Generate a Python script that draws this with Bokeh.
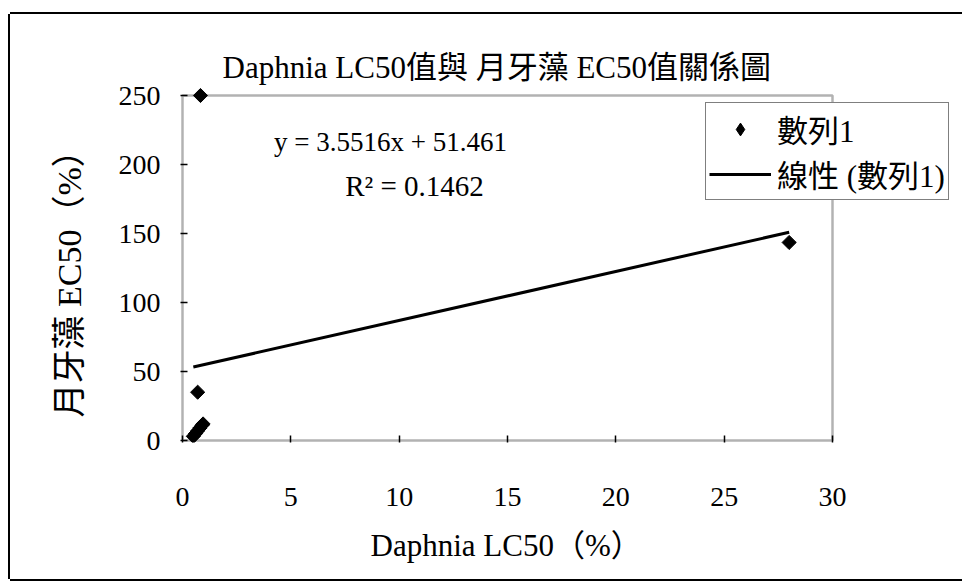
import math
from bokeh.plotting import figure
from bokeh.models import (Range1d, FixedTicker, Label, Legend, LegendItem,
                          BoxAnnotation, ColumnDataSource, Title)
from bokeh.embed import file_html
from bokeh.resources import INLINE

# ---- data ----
lc50 = [0.83, 0.70, 0.50, 0.60, 0.70, 0.80, 0.90, 0.95, 28.0]
ec50 = [250.0, 35.0, 3.0, 5.0, 7.0, 9.0, 11.0, 12.0, 143.5]
slope = 3.5516
intercept = 51.461
r2 = 0.1462
x_ticks = [0, 5, 10, 15, 20, 25, 30]
y_ticks = [0, 50, 100, 150, 200, 250]

title_text = "Daphnia LC50值與 月牙藻 EC50值關係圖"
x_label = "Daphnia LC50（%）"
y_label = "月牙藻 EC50（%）"
series_name = "數列1"
trend_name = "線性 (數列1)"

FONT = "'Liberation Serif', 'Noto Sans CJK TC'"

# page placement of the figure element (outer chart border drawn by CSS)
OX, OY = 10, 14
W, H = 952, 560
# plot area (axes box) in page pixels
AL, AR, AT, AB = 182, 832, 95, 440
PAD_LB, PAD_T = 2, 9          # frame extends a little past the axes box
PAGE_R = 962
sx = (AR - AL) / (x_ticks[-1] - x_ticks[0])
sy = (AB - AT) / (y_ticks[-1] - y_ticks[0])
FL, FT, FB, FR = AL - PAD_LB, AT - PAD_T, AB + PAD_LB, PAGE_R

p = figure(width=W, height=H, output_backend="svg", toolbar_location=None,
           x_range=Range1d(x_ticks[0] - PAD_LB / sx, x_ticks[-1] + (FR - AR) / sx),
           y_range=Range1d(y_ticks[0] - PAD_LB / sy, y_ticks[-1] + PAD_T / sy),
           min_border_left=FL - OX, min_border_right=0,
           min_border_top=FT - OY, min_border_bottom=OY + H - FB,
           styles={"margin-left": "%dpx" % OX, "margin-top": "%dpx" % OY,
                   "box-shadow": "-2px 0 0 0 #000, 0 -2px 0 0 #000, 0 2px 0 0 #000"})
p.frame_width = FR - FL
p.frame_height = FB - FT
p.background_fill_color = "white"
p.border_fill_color = "white"
p.grid.visible = False
p.outline_line_color = None

for ax in (p.xaxis, p.yaxis):
    ax.axis_line_color = None
    ax.major_tick_in = 5 + PAD_LB
    ax.major_tick_out = 0
    ax.minor_tick_line_color = None
    ax.major_tick_line_color = "black"
    ax.major_tick_line_width = 1.5
    ax.major_label_text_font = FONT
    ax.major_label_text_font_size = "28px"
    ax.major_label_text_color = "black"

p.xaxis.ticker = FixedTicker(ticks=x_ticks)
p.yaxis.ticker = FixedTicker(ticks=y_ticks)
p.xaxis.major_label_standoff = 45
p.yaxis.major_label_standoff = 20

# plot-area box from 0..30 / 0..250
p.add_layout(BoxAnnotation(left=x_ticks[0], right=x_ticks[-1],
                           bottom=y_ticks[0], top=y_ticks[-1],
                           fill_color=None, line_color="black", line_width=2.5,
                           level="underlay"))

# title
p.title.text = title_text
p.title.text_font = FONT
p.title.text_font_size = "31px"
p.title.text_font_style = "normal"
p.title.text_color = "black"
p.title.align = "left"
p.title.offset = 222 - FL
p.title.standoff = 4

# axis titles
p.add_layout(Title(text=x_label, align="left", offset=370 - FL,
                   text_font=FONT, text_font_size="31px",
                   text_font_style="normal", text_color="black",
                   standoff=34), "below")
p.add_layout(Title(text=y_label, align="left", offset=FB - 417,
                   text_font=FONT, text_font_size="34px",
                   text_font_style="normal", text_color="black",
                   standoff=56), "left")

# trend line from the fitted equation over the data's x extent
tx = [min(lc50), max(lc50)]
ty = [slope * v + intercept for v in tx]
trend = p.line(tx, ty, line_color="black", line_width=3)

src = ColumnDataSource(dict(x=lc50, y=ec50))
pts = p.scatter("x", "y", source=src, marker="square", size=10,
                angle=math.pi / 4, fill_color="black", line_color="black")
# legend swatch for the series (diamond marker, no drawn point of its own)
swatch = p.scatter(x=[float("nan")], y=[float("nan")], marker="diamond",
                   size=10, fill_color="black", line_color="black")

# equation and R^2
p.add_layout(Label(x=390 - FL, y=FB - 141, x_units="screen", y_units="screen",
                   text="y = %.4fx + %.3f" % (slope, intercept),
                   text_font=FONT, text_font_size="27px",
                   text_align="center", text_baseline="middle",
                   text_color="black"))
p.add_layout(Label(x=414 - FL, y=FB - 185, x_units="screen", y_units="screen",
                   text="R² = %.4f" % r2,
                   text_font=FONT, text_font_size="29px",
                   text_align="center", text_baseline="middle",
                   text_color="black"))

legend = Legend(items=[LegendItem(label=series_name, renderers=[swatch]),
                       LegendItem(label=trend_name, renderers=[trend])],
                location=(705 - FL, FB - 200),
                label_text_font=FONT, label_text_font_size="31px",
                label_text_color="black",
                glyph_width=62, glyph_height=32, label_standoff=6,
                spacing=0, padding=3, margin=0,
                border_line_color="black", border_line_width=1.5,
                background_fill_color="white", background_fill_alpha=1.0)
p.add_layout(legend, "center")

open("out.html", "w").write(file_html(p, INLINE))
